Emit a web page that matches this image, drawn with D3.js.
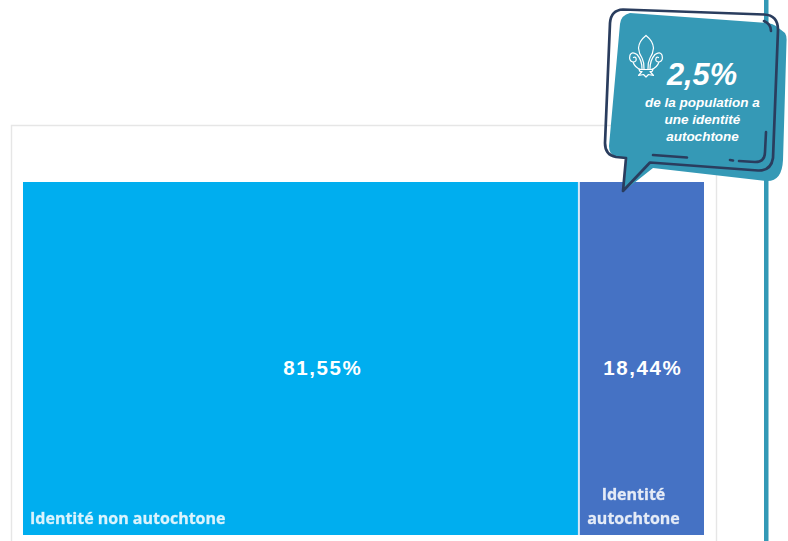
<!DOCTYPE html>
<html><head><meta charset="utf-8">
<script src="https://cdn.jsdelivr.net/npm/d3@7/dist/d3.min.js"></script>
<style>html,body{margin:0;padding:0;background:#fff;overflow:hidden}svg{display:block}</style>
</head><body><svg id="c" width="788" height="541"></svg>
<script>
const categories = ["Identité non autochtone", "Identité autochtone"];
const shares = [81.55, 18.44];
const shareLabels = ["81,55%", "18,44%"];
const categoryLines = [["Identité non autochtone"], ["Identité", "autochtone"]];
const colors = ["#00aeef", "#4472c4"];
const calloutValue = "2,5%";
const calloutLines = ["de la population a", "une identité", "autochtone"];

const svg = d3.select("#c");
const defs = svg.append("defs");
defs.append("filter").attr("id","soft").append("feGaussianBlur").attr("stdDeviation",0.5);
defs.append("filter").attr("id","edge").append("feGaussianBlur").attr("stdDeviation",0.5);

svg.append("rect").attr("x",764).attr("y",0).attr("width",4.5).attr("height",541).attr("fill","#3399b6");
svg.append("path").attr("d","M11.5,541V125.5H716.5V541").attr("fill","none").attr("stroke","#e6e6e6").attr("stroke-width",1.4);

const x = d3.scaleLinear().domain([0,d3.sum(shares)]).range([23,704]);
const y = d3.scaleLinear().domain([0,1]).range([535,182]);
const rows = categories.map((c,i)=>({c,v:shares[i],lab:shareLabels[i],col:colors[i],start:d3.sum(shares.slice(0,i))}));
const g = svg.append("g").attr("filter","url(#edge)");
g.selectAll("rect").data(rows).join("rect")
  .attr("x",d=>x(d.start)).attr("y",y(1))
  .attr("width",d=>x(d.start+d.v)-x(d.start)).attr("height",y(0)-y(1))
  .attr("fill",d=>d.col);
g.append("line").attr("x1",x(shares[0])+0.5).attr("x2",x(shares[0])+0.5).attr("y1",y(1)).attr("y2",y(0))
  .attr("stroke","#d6e8f7").attr("stroke-width",2);

svg.selectAll("text.val").data(rows).join("text").attr("class","val")
  .attr("x",(d,i)=>(x(d.start)+x(d.start+d.v))/2+(i===0?22:1.5)).attr("y",375)
  .attr("text-anchor","middle").attr("fill","#fff")
  .attr("font-family","'Liberation Sans',Arial,sans-serif").attr("font-weight",700).attr("font-size",20.5)
  .attr("letter-spacing",1.6).text(d=>d.lab);

const labelG = svg.append("g").attr("filter","url(#soft)")
  .attr("font-family","'Open Sans',sans-serif").attr("font-weight",700).attr("font-size",16).attr("fill","#fff").attr("fill-opacity",0.85)
  .attr("stroke","#fff").attr("stroke-opacity",0.5).attr("stroke-width",0.4);
labelG.append("text").attr("x",x(0)+7).attr("y",523.5).text(categoryLines[0][0]);
categoryLines[1].forEach((t,i)=>{
  labelG.append("text").attr("x",633.5).attr("y",500+i*24).attr("text-anchor","middle").text(t);
});

const k = svg.append("g");
k.append("path").attr("fill","#3599b6")
 .attr("d","M630,13 L768,23 Q773,24 776,26 L785,33 Q787,36 786.5,42 L783,160 Q782,182 766,181 L653,168 L624,191 L626,158 L615,156 Q609,154 609,146 L620,24 Q621,15 630,13 Z");
k.append("path").attr("fill","none").attr("stroke","#2a3d5e").attr("stroke-width",2.7).attr("stroke-linejoin","round").attr("stroke-linecap","round")
 .attr("d","M623,9.5 Q611,10 610,23 L605,143 Q605,155 616,157 L626,158 L623,191 L650,162.5 L758,170.5 Q771,171 773,158 L778,30 Q778,15 764,14.5 Z");
const acc = k.append("g").attr("fill","none").attr("stroke","#2a3d5e").attr("stroke-width",2.6).attr("stroke-linecap","round");
acc.append("path").attr("d","M764,21 Q771,24 771,31");
acc.append("path").attr("d","M653,155 L687,157.5");
acc.append("path").attr("d","M730,160 L733,160.5");
acc.append("path").attr("d","M739,161 L755,162 Q765,162 765,152 L766,132");

const f = k.append("g").attr("fill","none").attr("stroke","#fff").attr("stroke-width",1.2).attr("stroke-linejoin","round").attr("stroke-linecap","round");
f.append("path").attr("d","M646,35.5 Q639,41 638.5,48 Q639,54 642,58 Q644.5,63 644,69 M646,35.5 Q653,41 653.5,48 Q653,54 650,58 Q647.5,63 648,69");
f.append("path").attr("d","M642,69 Q642,60 637,54.5 Q632,51 630,55 Q628.5,61 633,62 Q637,62 636,58 Q635,56.5 633.5,57.5 M633,62 Q635,68 641,69.5");
f.append("path").attr("d","M650,69 Q650,60 655,54.5 Q660,51 662,55 Q663.5,61 659,62 Q655,62 656,58 Q657,56.5 658.5,57.5 M659,62 Q657,68 651,69.5");
f.append("path").attr("d","M639,69.5 L653,69.5 L652,71.5 L650,71.5 L653.5,75.5 L648.5,74.5 L646,77 L643.5,74.5 L638.5,75.5 L642,71.5 L640,71.5 Z");

const t = k.append("g").attr("fill","#fff").attr("text-anchor","middle").attr("font-family","'Liberation Sans',Arial,sans-serif").attr("font-weight",700).attr("font-style","italic");
t.append("text").attr("x",702).attr("y",84.5).attr("font-size",30.8).text(calloutValue);
calloutLines.forEach((l,i)=>t.append("text").attr("x",702.5).attr("y",107+i*17).attr("font-size",13.5).text(l));
</script></body></html>
